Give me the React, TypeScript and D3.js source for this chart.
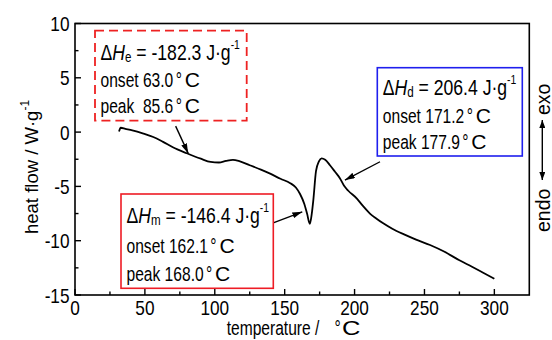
import * as d3 from 'd3';

// ── data ──────────────────────────────────────────────────────────────────
const temperature = [
  31.5, 32.7, 36, 41, 49, 56, 63, 70, 80, 90, 97, 103, 108, 113, 118, 125, 133, 140, 147, 154,
  158, 161, 164, 166, 168, 169.3, 170.5, 172.4, 174.5, 176.4, 179, 182.4, 186, 189.6, 192.5,
  195.5, 201.5, 206, 211, 215.5, 220.5, 227, 235, 244, 254, 264, 275, 284, 292, 300,
];
const heatFlow = [
  0.05, 0.4, 0.3, 0.15, -0.15, -0.45, -0.9, -1.4, -1.95, -2.45, -2.75, -2.8, -2.65, -2.55, -2.7,
  -3.05, -3.45, -3.85, -4.3, -4.7, -5.1, -5.7, -6.6, -7.5, -8.45, -7.6, -6.26, -3.6, -2.7, -2.42,
  -2.55, -3.05, -3.65, -4.27, -4.95, -5.4, -6.1, -6.8, -7.5, -7.95, -8.4, -8.9, -9.4, -9.9,
  -10.4, -11.0, -11.8, -12.4, -12.95, -13.5,
];

const xTicks = [0, 50, 100, 150, 200, 250, 300];
const xMinor = [25, 75, 125, 175, 225, 275];
const yTicks = [10, 5, 0, -5, -10, -15];
const yMinor = [7.5, 2.5, -2.5, -7.5, -12.5];

// annotation labels
const annoSub = ['e', 'd', 'm'];
const annoValue = ['-182.3', '206.4', '-146.4'];
const annoOnset = ['63.0', '171.2', '162.1'];
const annoPeak = [' 85.6', '177.9', '168.0'];
// arrow tail / tip in data units (temperature, heat flow)
const arrowTail: [number, number][] = [[72, 0.55], [218.2, -2.73], [141.8, -8.35]];
const arrowTip: [number, number][] = [[81, -1.96], [193.1, -4.42], [162.6, -7.34]];

const W = 552;
const H = 340;
const FONT = '"Liberation Sans", Arial, "DejaVu Sans", sans-serif';
const SX = 0.8; // the reference uses a narrow sans for horizontal text

// box layout (px)
const boxes = [
  { x: 95, y: 30.7, w: 151.7, h: 90, stroke: '#ee2222', dash: '9,5', lines: [29.3, 56.6, 82.6] },
  { x: 377.3, y: 67.7, w: 145, h: 88.3, stroke: '#1f1fee', dash: 'none', lines: [27.3, 55, 81.3] },
  { x: 121, y: 194, w: 152.3, h: 94.3, stroke: '#ee1c25', dash: 'none', lines: [29.3, 59.3, 87] },
];

function T({ x, y, size = 19.5, sx = SX, anchor = 'start', rotate = 0, children }: any) {
  return (
    <text
      transform={`translate(${x},${y}) scale(${sx},1)${rotate ? ` rotate(${rotate})` : ''}`}
      textAnchor={anchor}
      fontFamily={FONT}
      fontSize={size}
      fill="#000"
      style={{ whiteSpace: 'pre' }}
    >
      {children}
    </text>
  );
}

// wide "°C" like the reference's ℃ glyph
function Deg({ gap = 3, cgap = 3.5, cw = 19 }: { gap?: number; cgap?: number; cw?: number }) {
  return (
    <>
      <tspan dx={gap}>°</tspan>
      <tspan dx={cgap} textLength={cw} lengthAdjust="spacingAndGlyphs">C</tspan>
    </>
  );
}

export default function App() {
  const x = d3.scaleLinear().domain([0, 325]).range([75, 529.3]);
  const y = d3.scaleLinear().domain([-15, 10]).range([295, 23.5]);

  const pts = temperature.map((t, i) => [t, heatFlow[i]] as [number, number]);
  const line = d3.line<[number, number]>().x(d => x(d[0])).y(d => y(d[1])).curve(d3.curveMonotoneX);

  const [x0, x1] = x.range();
  const [yb, yt] = y.range();

  return (
    <svg width={W} height={H} style={{ position: 'absolute', left: 0, top: 0, background: '#fff' }}>
      <defs>
        <marker id="ah" viewBox="0 0 10 6" refX="10" refY="3" markerWidth="10" markerHeight="6" markerUnits="userSpaceOnUse" orient="auto">
          <path d="M0,0 L10,3 L0,6 Z" fill="#000" />
        </marker>
        <marker id="ah2" viewBox="0 0 8 6" refX="8" refY="3" markerWidth="8" markerHeight="6" markerUnits="userSpaceOnUse" orient="auto-start-reverse">
          <path d="M0,0 L8,3 L0,6 Z" fill="#000" />
        </marker>
      </defs>

      {/* frame */}
      <rect x={x0} y={yt} width={x1 - x0} height={yb - yt} fill="none" stroke="#000" strokeWidth={1.6} />

      {/* x ticks */}
      {xTicks.map(t => (
        <g key={'xt' + t}>
          <line x1={x(t)} x2={x(t)} y1={yb} y2={yb - 6} stroke="#000" strokeWidth={1.4} />
          <T x={x(t)} y={314.5} size={21} sx={0.82} anchor="middle">{t}</T>
        </g>
      ))}
      {xMinor.map(t => (
        <line key={'xm' + t} x1={x(t)} x2={x(t)} y1={yb} y2={yb - 3.5} stroke="#000" strokeWidth={1.4} />
      ))}

      {/* y ticks */}
      {yTicks.map(v => (
        <g key={'yt' + v}>
          <line x1={x0} x2={x0 + 6} y1={y(v)} y2={y(v)} stroke="#000" strokeWidth={1.4} />
          <T x={69.5} y={v === -15 ? 302.5 : y(v) + 7.5} size={21} sx={0.82} anchor="end">{v}</T>
        </g>
      ))}
      {yMinor.map(v => (
        <line key={'ym' + v} x1={x0} x2={x0 + 3.5} y1={y(v)} y2={y(v)} stroke="#000" strokeWidth={1.4} />
      ))}

      {/* axis titles */}
      <T x={226.7} y={334.5}>
        temperature /<Deg gap={19} cgap={1.5} cw={23} />
      </T>
      <T x={38} y={234} size={18.5} sx={1} rotate={-90}>
        heat flow / W·g<tspan fontSize={12} dy={-9}>-1</tspan>
      </T>

      {/* exo / endo */}
      <T x={549.5} y={115} size={19.5} sx={1} rotate={-90}>exo</T>
      <T x={549.5} y={232} size={19.5} sx={1} rotate={-90}>endo</T>
      <line x1={542.3} x2={542.3} y1={120} y2={180} stroke="#000" strokeWidth={1.4} markerStart="url(#ah2)" markerEnd="url(#ah2)" />

      {/* DSC curve */}
      <path d={line(pts) ?? ''} fill="none" stroke="#000" strokeWidth={1.8} strokeLinejoin="round" />

      {/* annotation arrows */}
      {arrowTail.map((a, i) => (
        <line
          key={'ar' + i}
          x1={x(a[0])}
          y1={y(a[1])}
          x2={x(arrowTip[i][0])}
          y2={y(arrowTip[i][1])}
          stroke="#000"
          strokeWidth={1.4}
          markerEnd="url(#ah)"
        />
      ))}

      {/* annotation boxes */}
      {boxes.map((b, i) => (
        <g key={'bx' + i}>
          <rect x={b.x} y={b.y} width={b.w} height={b.h} fill="#fff" stroke={b.stroke} strokeWidth={i === 0 ? 1.8 : 1.6} strokeDasharray={b.dash} />
          <T x={b.x + 5.5} y={b.y + b.lines[0]} size={22}>
            Δ<tspan fontStyle="italic">H</tspan>
            <tspan fontSize={14.5} dy={1.5}>{annoSub[i]}</tspan>
            <tspan dy={-1.5}>{` = ${annoValue[i]} J·g`}</tspan>
            <tspan fontSize={13} dx={0} dy={-11}>-1</tspan>
          </T>
          <T x={b.x + 5.5} y={b.y + b.lines[1]}>
            {`onset ${annoOnset[i]}`}<Deg />
          </T>
          <T x={b.x + 5.5} y={b.y + b.lines[2]}>
            {`peak ${annoPeak[i]}`}<Deg />
          </T>
        </g>
      ))}
    </svg>
  );
}
